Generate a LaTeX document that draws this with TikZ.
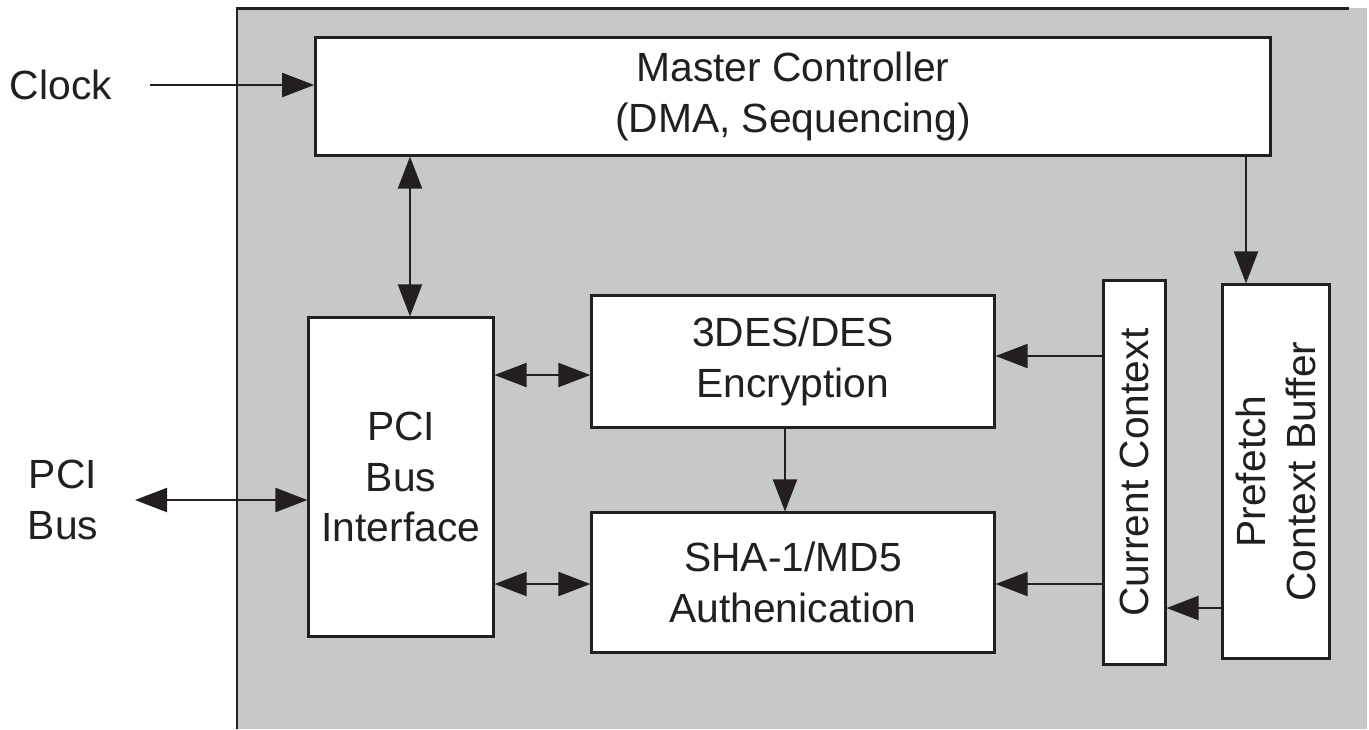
\documentclass[tikz,border=0pt]{standalone}
\usepackage{fontspec}
\setmainfont{Liberation Sans}
\usetikzlibrary{arrows.meta}
\definecolor{panelgray}{RGB}{199,200,202}
\definecolor{ink}{RGB}{35,31,32}

\begin{document}
\begin{tikzpicture}[
  x=0.01cm, y=-0.01cm,
  font=\fontsize{11.6}{14.4}\selectfont,
  blk/.style={draw=ink, line width=0.85pt, fill=white, text=ink, align=center, inner sep=0pt},
  lbl/.style={align=center, inner sep=0pt, text=ink},
  ar/.style={-{Triangle[length=0.32cm, width=0.24cm]}, line width=0.6pt, ink},
  biar/.style={{Triangle[length=0.32cm, width=0.24cm]}-{Triangle[length=0.32cm, width=0.24cm]}, line width=0.6pt, ink}
]
\useasboundingbox (0,0) rectangle (1369,729);

% chip outline: grey panel, border only on top and left
\fill[panelgray] (237,8) rectangle (1367,729);
\draw[line width=0.85pt, ink] (237,729) -- (237,8) -- (1349,8);

% blocks
\node[blk, minimum width=9.54cm, minimum height=1.17cm] (master) at (793,96.5) {Master Controller\\(DMA, Sequencing)};
\node[blk, minimum width=1.84cm, minimum height=3.18cm] (pci) at (401,477) {PCI\\Bus\\Interface};
\node[blk, minimum width=4.02cm, minimum height=1.31cm] (des) at (793,361.5) {3DES/DES\\Encryption};
\node[blk, minimum width=4.02cm, minimum height=1.39cm] (sha) at (793,582.5) {SHA-1/MD5\\Authenication};
\node[blk, minimum width=0.61cm, minimum height=3.83cm] (cur) at (1134.5,472.5) {};
\node[lbl, rotate=90] at (cur) {Current Context};
\node[blk, minimum width=1.06cm, minimum height=3.73cm] (pre) at (1276,471.5) {};
\node[lbl, rotate=90] at (pre) {Prefetch\\Context Buffer};

% outside signals
\node[lbl] (clk) at (61,85) {Clock};
\node[lbl] (bus) at (63,500) {PCI\\Bus};
\coordinate (clkin) at (150,85);
\coordinate (busin) at (135,500);
\draw[ar] (clkin) -- (clkin -| master.west);
\draw[biar] (busin) -- (busin -| pci.west);

% vertical links
\coordinate (mp) at (410,0);
\coordinate (mq) at (1246,0);
\coordinate (ds) at (785,0);
\draw[biar] (mp |- master.south) -- (mp |- pci.north);
\draw[ar] (mq |- master.south) -- (mq |- pre.north);
\draw[ar] (ds |- des.south) -- (ds |- sha.north);

% horizontal links
\coordinate (rdes) at (0,375);
\coordinate (rsha) at (0,584);
\coordinate (rcd) at (0,356);
\coordinate (rpc) at (0,608);
\draw[biar] (rdes -| pci.east) -- (rdes -| des.west);
\draw[biar] (rsha -| pci.east) -- (rsha -| sha.west);
\draw[ar] (rcd -| cur.west) -- (rcd -| des.east);
\draw[ar] (rsha -| cur.west) -- (rsha -| sha.east);
\draw[ar] (rpc -| pre.west) -- (rpc -| cur.east);

\end{tikzpicture}
\end{document}
